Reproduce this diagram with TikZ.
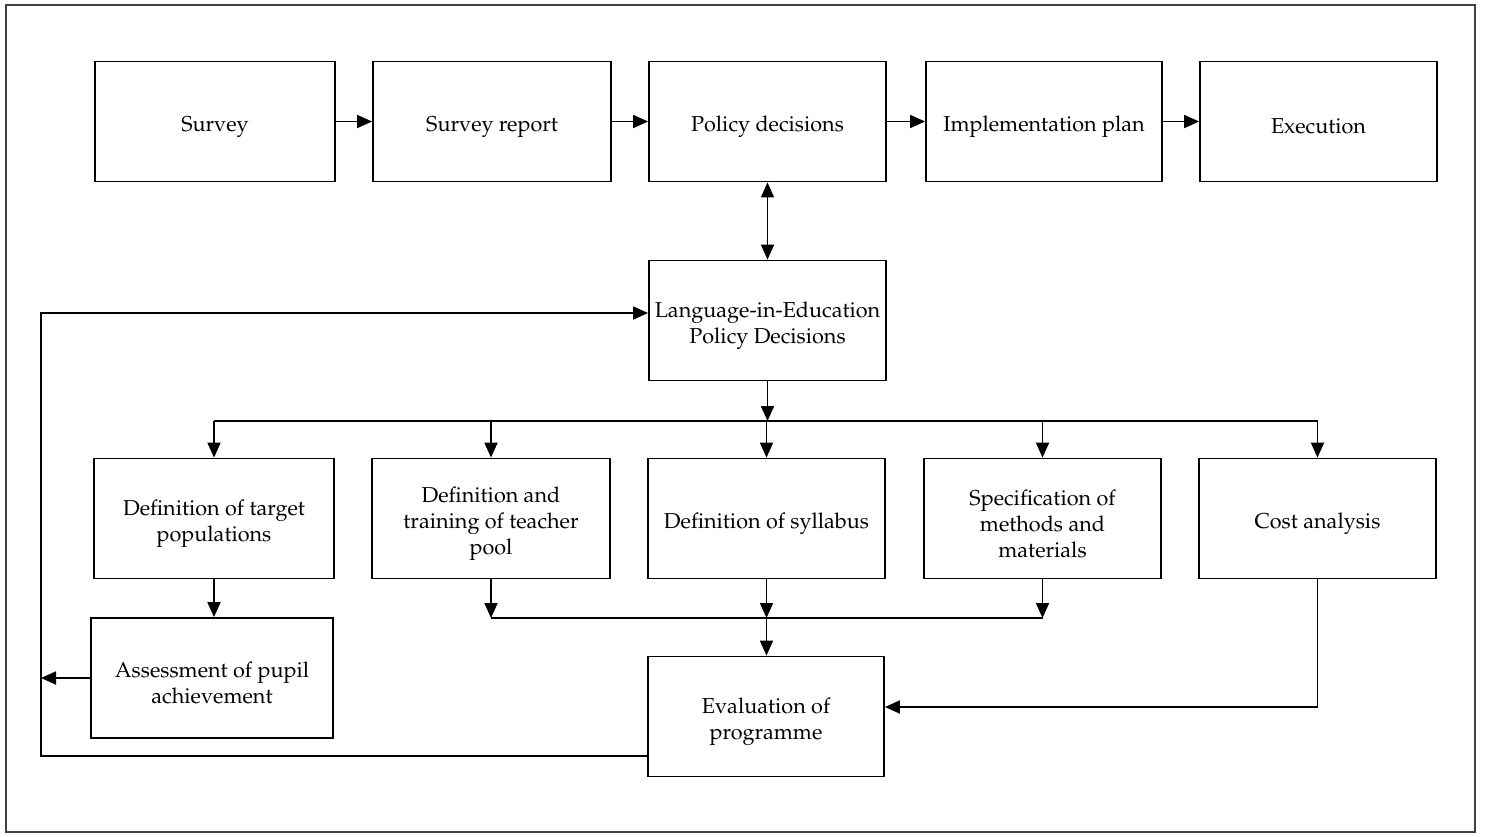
\documentclass[tikz,border=0pt]{standalone}
\usepackage[T1]{fontenc}
\usepackage{mathpazo}
\usetikzlibrary{arrows.meta,calc}
\begin{document}
\begin{tikzpicture}[x=0.5pt,y=-0.5pt,
  box/.style={draw, line width=0.9pt, inner sep=0pt,
              minimum width=#1*0.5pt, minimum height=60pt},
  box/.default=237,
  txt/.style={align=center, inner sep=0pt, yshift=-2.6pt,
              font=\fontsize{10.8}{13}\selectfont},
  link/.style={line width=0.9pt},
  tip/.tip={Triangle[length=7.5pt,width=6.5pt]},
  arr/.style={link, -tip},
  darr/.style={link, tip-tip}]
\useasboundingbox (0,0) rectangle (1486,836);
% outer frame
\draw[line width=0.7pt, black!75] (6,5) rectangle (1475,832);

% top row
\node[box=240, label={[txt]center:Survey}]              (survey) at (215,121.5) {};
\node[box=238, label={[txt]center:Survey report}]       (report) at (492,121.5) {};
\node[box,     label={[txt]center:Policy decisions}]    (policy) at (767.5,121.5) {};
\node[box=236, label={[txt]center:Implementation plan}] (impl)   at (1044,121.5) {};
\node[box,     label={[txt]center:Execution}]           (exec)   at (1318.5,121.5) {};

% language-in-education policy
\node[box, label={[txt]center:{Language-in-Education\\Policy Decisions}}] (lang) at (767.5,320.5) {};

% third row
\node[box=240, label={[txt]center:{Definition of target\\populations}}]      (target)   at (214,518.5)  {};
\node[box=238, label={[txt]center:{Definition and\\training of teacher\\pool}}] (teacher) at (491,518.5) {};
\node[box,     label={[txt]center:Definition of syllabus}]                     (syllabus) at (766.5,518.5) {};
\node[box,     label={[txt]center:{Specification of\\methods and\\materials}}] (methods)  at (1042.5,518.5) {};
\node[box,     label={[txt]center:Cost analysis}]                              (cost)     at (1317.5,518.5) {};

% bottom boxes
\node[box=242, label={[txt]center:{Assessment of pupil\\achievement}}] (assess) at (212,678)   {};
\node[box=236, label={[txt]center:{Evaluation of\\programme}}]         (eval)   at (766,716.5) {};

% helper coordinates for buses and the feedback loop
\coordinate (busA) at (0,421);
\coordinate (busB) at (0,618);
\coordinate (fbB)  at (41,756);
\coordinate (fbT)  at (41,313);

% top chain
\draw[arr] (survey) -- (report);
\draw[arr] (report) -- (policy);
\draw[arr] (policy) -- (impl);
\draw[arr] (impl) -- (exec);
\draw[darr] (policy) -- (lang);

% distribution bus
\draw[arr] (lang.south) -- (lang.south |- busA);
\draw[link] (target.north |- busA) -- (cost.north |- busA);
\foreach \n in {target,teacher,syllabus,methods,cost}
  \draw[arr] (\n.north |- busA) -- (\n.north);

% collection bus
\draw[link] (teacher.south |- busB) -- (methods.south |- busB);
\foreach \n in {teacher,syllabus,methods}
  \draw[arr] (\n.south) -- (\n.south |- busB);
\draw[arr] (syllabus.south |- busB) -- (syllabus.south |- eval.north);

\draw[arr] (target.south) -- (target.south |- assess.north);
\draw[arr] (cost.south) |- ($(eval.east)+(0,-9.5)$);

% feedback loop
\draw[arr] (assess.west) -- (fbT |- assess.west);
\draw[arr] (eval.west |- fbB) -- (fbB) -- (fbT) -- (lang.west |- fbT);
\end{tikzpicture}
\end{document}
